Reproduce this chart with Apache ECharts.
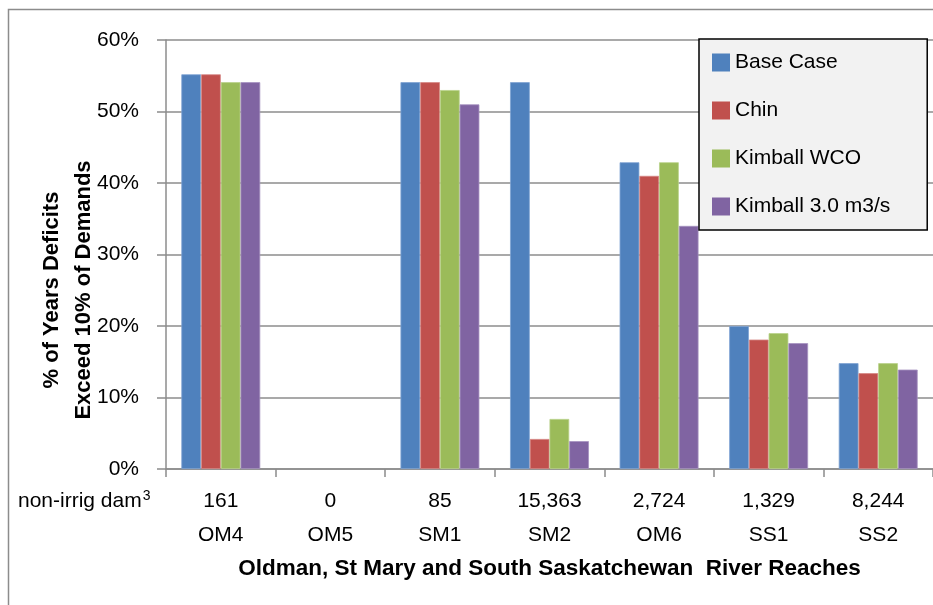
<!DOCTYPE html>
<html>
<head>
<meta charset="utf-8">
<script src="https://cdn.jsdelivr.net/npm/echarts@6/dist/echarts.min.js"></script>
<style>
  html, body { margin: 0; padding: 0; background: #fff; }
  #chart { width: 933px; height: 605px; }
</style>
</head>
<body>
<div id="chart"></div>
<script>
// reaches along the river, with non-irrigation demand (dam3) shown above each
const categories = ['OM4', 'OM5', 'SM1', 'SM2', 'OM6', 'SS1', 'SS2'];
const nonIrrig = ['161', '0', '85', '15,363', '2,724', '1,329', '8,244'];

// % of years deficits exceed 10% of demands
const baseCase = [55.2, 0, 54.1, 54.1, 42.9, 20.0, 14.8];
const chin = [55.2, 0, 54.1, 4.2, 41.0, 18.1, 13.4];
const kimballWCO = [54.1, 0, 53.0, 7.0, 42.9, 19.0, 14.8];
const kimball30 = [54.1, 0, 51.0, 3.9, 34.0, 17.6, 13.9];

const yTicks = { min: 0, max: 60, interval: 10 };

const font = 'Liberation Sans, Arial, sans-serif';
const grey = '#8c8c8c';

const chart = echarts.init(document.getElementById('chart'));

function bar(name, data, color, edge) {
  return {
    name: name,
    type: 'bar',
    // thin light edge like the original, but none on empty bars
    data: data.map(v => ({
      value: v,
      itemStyle: { borderColor: edge, borderWidth: v > 0 ? 0.8 : 0 }
    })),
    barGap: '0%',
    barCategoryGap: '28%',
    itemStyle: { color: color },
    animation: false
  };
}

const option = {
  backgroundColor: '#fff',
  textStyle: { fontFamily: font, color: '#000' },
  grid: { left: 166, right: 0, top: 40, bottom: 136 },
  legend: {
    orient: 'vertical',
    left: 699,
    top: 39,
    padding: [13, 37, 13, 13],
    itemGap: 27,
    itemWidth: 18,
    itemHeight: 18,
    icon: 'rect',
    backgroundColor: '#f2f2f2',
    borderColor: '#000',
    borderWidth: 1.5,
    borderRadius: 0,
    itemStyle: { borderWidth: 0 },
    textStyle: { fontFamily: font, fontSize: 21, color: '#000' }
  },
  xAxis: {
    type: 'category',
    data: categories,
    name: 'Oldman, St Mary and South Saskatchewan  River Reaches',
    nameLocation: 'middle',
    nameGap: 87,
    nameTextStyle: { fontFamily: font, fontSize: 22.5, fontWeight: 'bold', color: '#000' },
    axisLine: { lineStyle: { color: grey, width: 1.5 } },
    axisTick: { show: true, length: 8, lineStyle: { color: grey, width: 1.5 } },
    axisLabel: {
      margin: 15,
      fontSize: 21,
      lineHeight: 34,
      color: '#000',
      formatter: (v, i) => nonIrrig[i] + '\n' + v
    }
  },
  yAxis: {
    type: 'value',
    min: yTicks.min,
    max: yTicks.max,
    interval: yTicks.interval,
    axisLine: { show: true, lineStyle: { color: grey, width: 1.5 } },
    axisTick: { show: true, length: 9, lineStyle: { color: grey, width: 1.5 } },
    axisLabel: { margin: 27, fontSize: 21, color: '#000', formatter: '{value}%' },
    splitLine: { lineStyle: { color: grey, width: 1.5 } }
  },
  graphic: [
    {
      // outer chart border
      type: 'rect',
      z: -1,
      shape: { x: 8.5, y: 9.5, width: 1000, height: 1000 },
      style: { fill: 'none', stroke: grey, lineWidth: 1.5 }
    },
    {
      type: 'text',
      x: 68,
      y: 290,
      rotation: Math.PI / 2,
      style: {
        text: '% of Years Deficits\nExceed 10% of Demands',
        font: 'bold 22px ' + font,
        fill: '#000',
        align: 'center',
        verticalAlign: 'middle',
        lineHeight: 32
      }
    },
    {
      type: 'text',
      x: 18,
      y: 501,
      style: {
        text: '{t|non-irrig dam}{s|3}',
        fill: '#000',
        align: 'left',
        verticalAlign: 'middle',
        rich: {
          t: { fontFamily: font, fontSize: 21, lineHeight: 24, fill: '#000' },
          s: { fontFamily: font, fontSize: 14, lineHeight: 24, fill: '#000', verticalAlign: 'top', padding: [0, 0, 8, 1] }
        }
      }
    }
  ],
  series: [
    bar('Base Case', baseCase, '#4f81bd', '#7fa3d3'),
    bar('Chin', chin, '#c0504d', '#d58684'),
    bar('Kimball WCO', kimballWCO, '#9bbb59', '#b9d28a'),
    bar('Kimball 3.0 m3/s', kimball30, '#8064a2', '#a692c0')
  ]
};

chart.setOption(option);
</script>
</body>
</html>
